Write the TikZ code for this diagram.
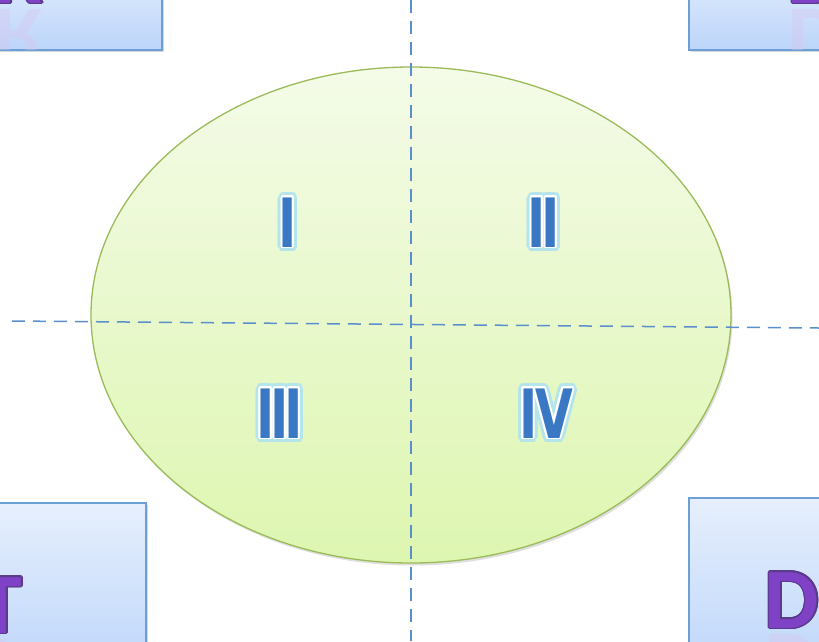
\documentclass[tikz,border=0pt]{standalone}
\usepackage{fontspec}
\newfontfamily\numfont{Carlito}[BoldFont={Carlito Bold}]
\newfontfamily\romfont{DejaVu Sans}[BoldFont={DejaVu Sans Bold}]
\usetikzlibrary{calc,shadows}
\definecolor{boxtop}{HTML}{E6EFFD}
\definecolor{boxbot}{HTML}{BCD5FA}
\definecolor{boxedge}{HTML}{6C9FD6}
\definecolor{elltop}{HTML}{F4FBE8}
\definecolor{ellbot}{HTML}{DDF6B0}
\definecolor{elledge}{HTML}{9BBB59}
\definecolor{dashblue}{HTML}{5B8FCC}
\definecolor{numblue}{HTML}{3A78C4}
\definecolor{numglow}{HTML}{B4E4EC}
\definecolor{letpurple}{HTML}{7F42C6}
\definecolor{letedge}{HTML}{5A3A8A}
\tikzset{
  cornerbox/.style={draw=boxedge, line width=1.2pt, top color=boxtop, bottom color=boxbot,
    drop shadow={shadow xshift=2pt, shadow yshift=-2pt, opacity=0.3}},
  quadline/.style={draw=dashblue, line width=1.5pt, dash pattern=on 13pt off 8pt},
  numstyle/.style={font=\romfont\bfseries\fontsize{68}{68}\selectfont, inner sep=0pt, anchor=base, xscale=0.72},
  letstyle/.style={font=\numfont\bfseries\fontsize{86}{86}\selectfont, inner sep=0pt, anchor=base},
}
\newcommand\romannum[3]{%
  \foreach \a in {0,20,...,340} \node[numstyle, text=numglow] at ($(#1)+(\a:5)$) {#3};
  \foreach \a in {0,20,...,340} \node[numstyle, text=white] at ($(#1)+(\a:2)$) {#3};
  \node[numstyle, text=numblue] (#2) at (#1) {#3};}
\newcommand\boxletter[3]{%
  \node[letstyle, text=letpurple!30, opacity=0.4, yscale=-1, anchor=base] at ($(#1)+(0,6)$) {#3};
  \foreach \a in {0,30,...,330} \node[letstyle, text=letedge] at ($(#1)+(\a:1.6)$) {#3};
  \node[letstyle, text=letpurple] (#2) at (#1) {#3};}
\begin{document}
\begin{tikzpicture}[x=1pt, y=-1pt]
\useasboundingbox (0,0) rectangle (819,641);
\fill[white] (0,0) rectangle (819,641);
\clip (0,0) rectangle (819,641);
% corner boxes
\path[cornerbox] (-20,-40) rectangle (162,50);
\path[cornerbox] (689,-40) rectangle (840,50);
\path[cornerbox] (-20,503) rectangle (146,680);
\path[cornerbox] (689,498) rectangle (840,680);
\begin{scope}
  \clip (-20,-40) rectangle (161,49);
  \boxletter{19,3}{lR}{R}
\end{scope}
\begin{scope}
  \clip (690,-40) rectangle (840,49);
  \boxletter{815,3}{lD1}{D}
\end{scope}
\boxletter{1,633}{lT}{T}
\boxletter{792,628}{lD2}{D}
% ellipse
\path[draw=elledge, line width=1.3pt, top color=elltop, bottom color=ellbot,
  drop shadow={shadow xshift=1.5pt, shadow yshift=-2.5pt, opacity=0.25}]
  (411,315) ellipse [x radius=320, y radius=248];
\node[inner sep=0pt] (c) at (411,315) {};
% dashed axes
\coordinate (vt) at (411,0);
\coordinate (vb) at (411,641);
\coordinate (hl) at (12,321);
\coordinate (hr) at (819,328);
\draw[quadline] (vt) -- (vb);
\draw[quadline] (hl) -- (hr);
% numerals
\romannum{288,247}{n1}{Ⅰ}
\romannum{544,247}{n2}{Ⅱ}
\romannum{280,438}{n3}{Ⅲ}
\romannum{546,438}{n4}{Ⅳ}
\end{tikzpicture}
\end{document}
